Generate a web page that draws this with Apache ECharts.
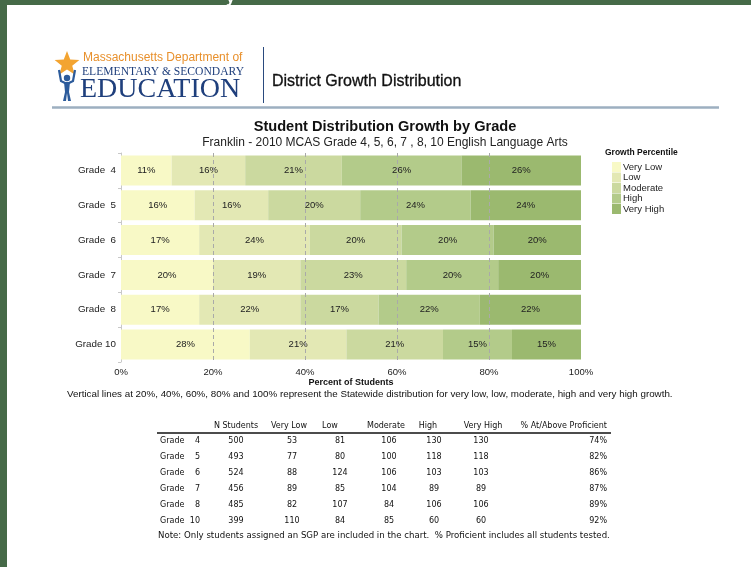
<!DOCTYPE html>
<html>
<head>
<meta charset="utf-8">
<title>District Growth Distribution</title>
<script src="https://cdn.jsdelivr.net/npm/echarts@6/dist/echarts.min.js"></script>
<style>
  html, body { margin: 0; padding: 0; background: #466a48; overflow: hidden; }
  #chart { width: 751px; height: 567px; }
</style>
</head>
<body>
<div id="chart"></div>
<script>
// Growth distribution (percent of students) by grade
const grades = ['Grade  4', 'Grade  5', 'Grade  6', 'Grade  7', 'Grade  8', 'Grade 10'];
const growthLevels = ['Very Low', 'Low', 'Moderate', 'High', 'Very High'];
const veryLowPct = [11, 16, 17, 20, 17, 28];
const lowPct = [16, 16, 24, 19, 22, 21];
const moderatePct = [21, 20, 20, 23, 17, 21];
const highPct = [26, 24, 20, 20, 22, 15];
const veryHighPct = [26, 24, 20, 20, 22, 15];
const statewideLines = [20, 40, 60, 80];

// Student counts for the summary table
const tableGrades = ['4', '5', '6', '7', '8', '10'];
const nStudents = [500, 493, 524, 456, 485, 399];
const nVeryLow = [53, 77, 88, 89, 82, 110];
const nLow = [81, 80, 124, 85, 107, 84];
const nModerate = [106, 100, 106, 104, 84, 85];
const nHigh = [130, 118, 103, 89, 106, 60];
const nVeryHigh = [130, 118, 103, 89, 106, 60];
const pctProficient = [74, 82, 86, 87, 89, 92];
const tableHeaders = ['N Students', 'Very Low', 'Low', 'Moderate', 'High', 'Very High', '% At/Above Proficient'];

const growthColors = ['#f8f9c6', '#e3e8b4', '#cbd99f', '#b3cb8a', '#9bb96f'];
const SANS = '"Liberation Sans", Arial, sans-serif';
const SERIF = '"Liberation Serif", "Times New Roman", serif';
const TABLE = '"DejaVu Sans", Verdana, sans-serif';

const chart = echarts.init(document.getElementById('chart'), null, { renderer: 'canvas' });

const seriesData = [veryLowPct, lowPct, moderatePct, highPct, veryHighPct];
const series = seriesData.map((vals, i) => {
  const s = {
    name: growthLevels[i],
    type: 'bar',
    stack: 'growth',
    barCategoryGap: '14%',
    data: vals,
    itemStyle: { color: growthColors[i] },
    label: {
      show: true,
      position: 'inside',
      formatter: '{c}%',
      fontFamily: SANS,
      fontSize: 9.5,
      color: '#222'
    },
    emphasis: { disabled: true }
  };
  if (i === seriesData.length - 1) {
    s.markLine = {
      silent: true,
      symbol: 'none',
      label: { show: false },
      lineStyle: { color: '#a9a9a9', type: [4, 3], width: 1 },
      data: statewideLines.map(v => ({ xAxis: v }))
    };
  }
  return s;
});

// Page decoration, header, logo and summary table
const g = [];
// white page
g.push({ type: 'rect', shape: { x: 7, y: 5, width: 744, height: 562 }, style: { fill: '#ffffff' }, z: -10 });
g.push({ type: 'text', x: 226, y: -9, style: { text: 'y', font: 'bold 16px ' + SANS, fill: '#ffffff' }, z: -5 });

// logo star
(function () {
  const cx = 67, cy = 64, ro = 13, ri = 5.5;
  const pts = [];
  for (let k = 0; k < 10; k++) {
    const a = -Math.PI / 2 + k * Math.PI / 5;
    const r = k % 2 === 0 ? ro : ri;
    pts.push([cx + r * Math.cos(a), cy + r * Math.sin(a)]);
  }
  g.push({ type: 'polygon', shape: { points: pts }, style: { fill: '#f3a431' } });
})();
// figure holding the star
g.push({ type: 'circle', shape: { cx: 67, cy: 78, r: 3.2 }, style: { fill: '#2c5b9b' } });
g.push({ type: 'polyline', shape: { points: [[59, 70], [61, 81], [67, 84], [73, 81], [75, 70]] }, style: { stroke: '#2c5b9b', lineWidth: 2.2, fill: null } });
g.push({ type: 'polygon', shape: { points: [[64, 82], [70, 82], [69, 92], [71, 101], [68, 101], [67, 93], [66, 101], [63, 101], [65, 92]] }, style: { fill: '#2c5b9b' } });
// logo words
g.push({ type: 'text', x: 83, y: 58, style: { text: 'Massachusetts Department of', font: '12px ' + SANS, fill: '#e8902c', textVerticalAlign: 'middle' } });
g.push({ type: 'text', x: 82, y: 72, style: { text: 'ELEMENTARY & SECONDARY', font: '11.6px ' + SERIF, fill: '#1f3f7c', textVerticalAlign: 'middle' } });
g.push({ type: 'text', x: 80, y: 90, style: { text: 'EDUCATION', font: '28px ' + SERIF, fill: '#1f3f7c', textVerticalAlign: 'middle' } });
g.push({ type: 'line', shape: { x1: 263.5, y1: 47, x2: 263.5, y2: 103 }, style: { stroke: '#2a4a7e', lineWidth: 1 } });
g.push({ type: 'text', x: 272, y: 82, style: { text: 'District Growth Distribution', font: '16px ' + SANS, fill: '#111', stroke: '#111', lineWidth: 0.3, textVerticalAlign: 'middle' } });
g.push({ type: 'line', shape: { x1: 52, y1: 107.5, x2: 719, y2: 107.5 }, style: { stroke: '#9dafc0', lineWidth: 2.5 } });

// chart titles
g.push({ type: 'text', x: 385, y: 127, style: { text: 'Student Distribution Growth by Grade', font: 'bold 14.6px ' + SANS, fill: '#111', textAlign: 'center', textVerticalAlign: 'middle' } });
g.push({ type: 'text', x: 385, y: 143, style: { text: 'Franklin - 2010 MCAS Grade 4, 5, 6, 7 , 8, 10 English Language Arts', font: '12px ' + SANS, fill: '#222', textAlign: 'center', textVerticalAlign: 'middle' } });
g.push({ type: 'text', x: 605, y: 153, style: { text: 'Growth Percentile', font: 'bold 8.5px ' + SANS, fill: '#111', textVerticalAlign: 'middle' } });
g.push({ type: 'text', x: 67, y: 394, style: { text: 'Vertical lines at 20%, 40%, 60%, 80% and 100% represent the Statewide distribution for very low, low, moderate, high and very high growth.', font: '9.8px ' + SANS, fill: '#111', textVerticalAlign: 'middle' } });

// summary table
const colCenters = [236, 292, 340, 389, 434, 481];
const headerCenters = [236, 289, 330, 386, 428, 483];
const rowY0 = 441, rowStep = 16;
headerCenters.forEach((x, i) => {
  g.push({ type: 'text', x: x, y: 426, style: { text: tableHeaders[i], font: '8px ' + TABLE, fill: '#111', textAlign: 'center', textVerticalAlign: 'middle' } });
});
g.push({ type: 'text', x: 607, y: 426, style: { text: tableHeaders[6], font: '8px ' + TABLE, fill: '#111', textAlign: 'right', textVerticalAlign: 'middle' } });
g.push({ type: 'line', shape: { x1: 157, y1: 433, x2: 611, y2: 433 }, style: { stroke: '#111', lineWidth: 1.5 } });
const cols = [nStudents, nVeryLow, nLow, nModerate, nHigh, nVeryHigh];
tableGrades.forEach((gr, r) => {
  const y = rowY0 + r * rowStep;
  g.push({ type: 'text', x: 160, y: y, style: { text: 'Grade', font: '8px ' + TABLE, fill: '#111', textVerticalAlign: 'middle' } });
  g.push({ type: 'text', x: 200, y: y, style: { text: gr, font: '8px ' + TABLE, fill: '#111', textAlign: 'right', textVerticalAlign: 'middle' } });
  cols.forEach((col, c) => {
    g.push({ type: 'text', x: colCenters[c], y: y, style: { text: String(col[r]), font: '8px ' + TABLE, fill: '#111', textAlign: 'center', textVerticalAlign: 'middle' } });
  });
  g.push({ type: 'text', x: 607, y: y, style: { text: pctProficient[r] + '%', font: '8px ' + TABLE, fill: '#111', textAlign: 'right', textVerticalAlign: 'middle' } });
});
g.push({ type: 'text', x: 158, y: 536, style: { text: 'Note: Only students assigned an SGP are included in the chart.  % Proficient includes all students tested.', font: '8.6px ' + TABLE, fill: '#111', textVerticalAlign: 'middle' } });

chart.setOption({
  animation: false,
  backgroundColor: 'transparent',
  textStyle: { fontFamily: SANS },
  graphic: g,
  legend: {
    data: growthLevels,
    orient: 'vertical',
    left: 607,
    top: 157,
    itemWidth: 9,
    itemHeight: 10,
    itemGap: 0.5,
    icon: 'rect',
    selectedMode: false,
    textStyle: { fontFamily: SANS, fontSize: 9.5, color: '#222', lineHeight: 10, padding: [0, 0, 0, -3] }
  },
  grid: { left: 121, width: 460, top: 153, height: 209, containLabel: false },
  xAxis: {
    type: 'value',
    min: 0,
    max: 100,
    interval: 20,
    name: 'Percent of Students',
    nameLocation: 'middle',
    nameGap: 16,
    nameTextStyle: { fontFamily: SANS, fontSize: 9, fontWeight: 'bold', color: '#111' },
    axisLine: { show: false },
    axisTick: { show: false },
    splitLine: { show: false },
    axisLabel: { formatter: '{value}%', fontFamily: SANS, fontSize: 9.5, color: '#222', margin: 5 }
  },
  yAxis: {
    type: 'category',
    inverse: true,
    data: grades,
    axisLine: { show: true, lineStyle: { color: '#c8c8c8' } },
    axisTick: { show: true, length: 3, lineStyle: { color: '#c8c8c8' } },
    axisLabel: { fontFamily: SANS, fontSize: 9.8, color: '#222', margin: 5 }
  },
  series: series
});
</script>
</body>
</html>
